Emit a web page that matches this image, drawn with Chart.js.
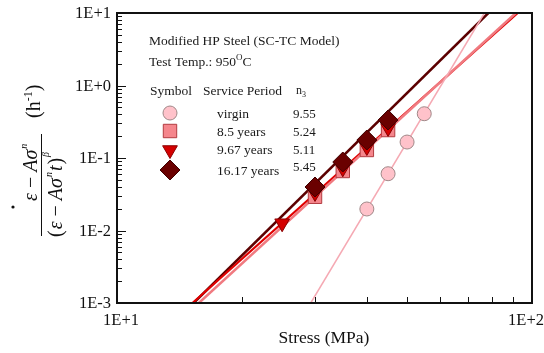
<!DOCTYPE html>
<html>
<head>
<meta charset="utf-8">
<script src="https://cdn.jsdelivr.net/npm/chart.js@4.4.1/dist/chart.umd.min.js"></script>
<style>
  html, body { margin: 0; padding: 0; background: #fff; }
  #wrap { width: 544px; height: 353px; }
</style>
</head>
<body>
<div id="wrap"><canvas id="creepChart" width="544" height="353"></canvas></div>
<script>
// ---- values ----
const virginStress = [40, 45, 50, 55];
const virginRate   = [0.0198, 0.0607, 0.166, 0.408];
const y85Stress    = [30, 35, 40, 45];
const y85Rate      = [0.0292, 0.0662, 0.129, 0.243];
const y967Stress   = [25, 30, 35, 40, 45];
const y967Rate     = [0.0126, 0.033, 0.072, 0.142, 0.26];
const y1617Stress  = [30, 35, 40, 45];
const y1617Rate    = [0.0398, 0.088, 0.177, 0.334];

// fitted lines: stress where each line meets the bottom (1E-3) and top (1E+1) of the plot
const fitRate   = [0.001, 10];
const virginFit = [29.3, 76.8];
const y85Fit    = [15.75, 91.4];
const y967Fit   = [15.2, 92.4];
const y1617Fit  = [15.3, 78.5];

const periods = ['virgin', '8.5 years', '9.67 years', '16.17 years'];
const nValues = ['9.55', '5.24', '5.11', '5.45'];
const xTickValues = [10, 100];
const xTickLabels = ['1E+1', '1E+2'];
const yTickValues = [10, 1, 0.1, 0.01, 0.001];
const yTickLabels = ['1E+1', '1E+0', '1E-1', '1E-2', '1E-3'];

// ---- styles ----
const SERIF = '"Liberation Serif", "Times New Roman", serif';
const styles = [
    { style: 'circle',   radius: 7,   rotation: 0,   fill: '#ffc2ca', border: '#a08888', line: '#f5a9b3', lineW: 1.5 },
    { style: 'rect',     radius: 9.5, rotation: 0,   fill: '#f5868c', border: '#b23c40', line: '#f07a80', lineW: 2.5 },
    { style: 'triangle', radius: 8.5, rotation: 180, fill: '#d40000', border: '#8a0000', line: '#e00000', lineW: 2.2 },
    { style: 'rectRot',  radius: 10,  rotation: 0,   fill: '#6a0000', border: '#3f0000', line: '#5c0000', lineW: 2.5 },
];

const pts = (xs, ys) => xs.map((x, i) => ({ x: x, y: ys[i] }));
const seriesX = [virginStress, y85Stress, y967Stress, y1617Stress];
const seriesY = [virginRate, y85Rate, y967Rate, y1617Rate];
const fits    = [virginFit, y85Fit, y967Fit, y1617Fit];

const datasets = [];
fits.forEach((f, i) => {
    datasets.push({
        label: periods[i] + ' fit',
        data: pts(f, fitRate),
        borderColor: styles[i].line,
        borderWidth: styles[i].lineW,
        pointRadius: 0,
        showLine: true,
        fill: false,
        order: 10 + i,
    });
});
seriesX.forEach((xs, i) => {
    datasets.push({
        label: periods[i],
        data: pts(xs, seriesY[i]),
        showLine: false,
        pointStyle: styles[i].style,
        pointRadius: styles[i].radius,
        pointRotation: styles[i].rotation,
        pointBackgroundColor: styles[i].fill,
        pointBorderColor: styles[i].border,
        pointBorderWidth: 1,
        order: 4 - i,
    });
});

// ---- helpers for text with super/subscripts ----
function drawRuns(ctx, runs, x, y) {
    let cx = x;
    runs.forEach(r => {
        ctx.font = r.font;
        ctx.fillText(r.t, cx, y - (r.dy || 0));
        cx += ctx.measureText(r.t).width + (r.gap || 0);
    });
    return cx;
}

function drawMarker(ctx, s, x, y) {
    ctx.save();
    ctx.fillStyle = s.fill;
    ctx.strokeStyle = s.border;
    ctx.lineWidth = 1;
    Chart.helpers.drawPoint(ctx, { pointStyle: s.style, radius: s.radius, rotation: s.rotation, borderWidth: 1 }, x, y);
    ctx.restore();
}

const decorPlugin = {
    id: 'decor',
    afterDraw(chart) {
        const ctx = chart.ctx;
        const a = chart.chartArea;
        const xs = chart.scales.x, ys = chart.scales.y;
        ctx.save();

        // frame
        ctx.strokeStyle = '#111';
        ctx.lineWidth = 2;
        ctx.strokeRect(a.left, a.top, a.right - a.left, a.bottom - a.top);

        // inward ticks
        ctx.lineWidth = 1;
        ctx.beginPath();
        for (let d = -3; d <= 0; d++) {
            for (let k = 1; k <= 9; k++) {
                const py = Math.round(ys.getPixelForValue(k * Math.pow(10, d))) + 0.5;
                const len = k === 1 ? 9 : 5;
                ctx.moveTo(a.left, py);
                ctx.lineTo(a.left + len, py);
            }
        }
        for (let k = 2; k <= 9; k++) {
            const px = Math.round(xs.getPixelForValue(k * 10)) + 0.5;
            ctx.moveTo(px, a.bottom);
            ctx.lineTo(px, a.bottom - 6);
        }
        ctx.stroke();

        // tick labels
        ctx.fillStyle = '#111';
        ctx.font = '16.5px ' + SERIF;
        ctx.textAlign = 'right';
        ctx.textBaseline = 'middle';
        yTickValues.forEach((v, i) => ctx.fillText(yTickLabels[i], a.left - 6, ys.getPixelForValue(v) + 1));
        ctx.textAlign = 'center';
        ctx.textBaseline = 'alphabetic';
        xTickValues.forEach((v, i) => ctx.fillText(xTickLabels[i], xs.getPixelForValue(v) + (i ? -6 : 4), a.bottom + 22));

        // x title
        ctx.font = '17.5px ' + SERIF;
        ctx.fillText('Stress (MPa)', 324, 343);

        // y title (rotated fraction)
        const it = 'italic 20px ' + SERIF, up = '20px ' + SERIF, sup = 'italic 10px ' + SERIF;
        ctx.textAlign = 'left';
        ctx.save();
        ctx.translate(37, 201);
        ctx.rotate(-Math.PI / 2);
        drawRuns(ctx, [
            { t: '\u03b5', font: it },
            { t: ' \u2212 ', font: up },
            { t: 'A\u03c3', font: it, gap: 1 },
            { t: 'n', font: sup, dy: 10 },
        ], 0, 0);
        ctx.beginPath();
        ctx.arc(-6, -24, 1.6, 0, Math.PI * 2);
        ctx.fill();
        ctx.restore();

        ctx.save();
        ctx.translate(62, 237);
        ctx.rotate(-Math.PI / 2);
        drawRuns(ctx, [
            { t: '(', font: up, gap: 1 },
            { t: '\u03b5', font: it },
            { t: ' \u2212 ', font: up },
            { t: 'A\u03c3', font: it, gap: 1 },
            { t: 'n', font: sup, dy: 10, gap: 1 },
            { t: 't', font: it, gap: 1 },
            { t: ')', font: up, gap: 1 },
            { t: '\u03b2', font: sup, dy: 13 },
        ], 0, 0);
        ctx.restore();

        ctx.beginPath();
        ctx.moveTo(41.5, 134);
        ctx.lineTo(41.5, 236);
        ctx.lineWidth = 1;
        ctx.stroke();

        ctx.save();
        ctx.translate(40, 118);
        ctx.rotate(-Math.PI / 2);
        drawRuns(ctx, [
            { t: '(h', font: '20px ' + SERIF },
            { t: '-1', font: '12px ' + SERIF, dy: 8 },
            { t: ')', font: '20px ' + SERIF },
        ], 0, 0);
        ctx.restore();

        // legend block
        ctx.fillStyle = '#1a1a1a';
        const f = '13.5px ' + SERIF;
        drawRuns(ctx, [{ t: 'Modified HP Steel (SC-TC Model)', font: f }], 149, 45);
        drawRuns(ctx, [
            { t: 'Test Temp.: 950', font: f },
            { t: 'O', font: '9px ' + SERIF, dy: 6 },
            { t: 'C', font: f },
        ], 149, 66);
        drawRuns(ctx, [{ t: 'Symbol', font: f }], 150, 95);
        drawRuns(ctx, [{ t: 'Service Period', font: f }], 203, 95);
        drawRuns(ctx, [
            { t: 'n', font: '12px ' + SERIF },
            { t: '3', font: '8px ' + SERIF, dy: -3 },
        ], 296, 94);

        const rowY = [118, 136, 154, 175];
        const markY = [113, 131, 150, 170];
        const nY = [118, 136, 154, 171];
        styles.forEach((s, i) => {
            drawMarker(ctx, s, 170, markY[i]);
            ctx.fillStyle = '#1a1a1a';
            ctx.font = f;
            ctx.fillText(periods[i], 217, rowY[i]);
            ctx.font = '13px ' + SERIF;
            ctx.fillText(nValues[i], 293, nY[i]);
        });

        ctx.restore();
    }
};

new Chart(document.getElementById('creepChart').getContext('2d'), {
    type: 'line',
    data: { datasets: datasets },
    options: {
        responsive: false,
        animation: false,
        layout: { padding: { left: 117, right: 12, top: 13, bottom: 50 } },
        plugins: { legend: { display: false }, tooltip: { enabled: false } },
        scales: {
            x: { type: 'logarithmic', min: 10, max: 100, display: false },
            y: { type: 'logarithmic', min: 0.001, max: 10, display: false },
        },
    },
    plugins: [decorPlugin],
});
</script>
</body>
</html>
